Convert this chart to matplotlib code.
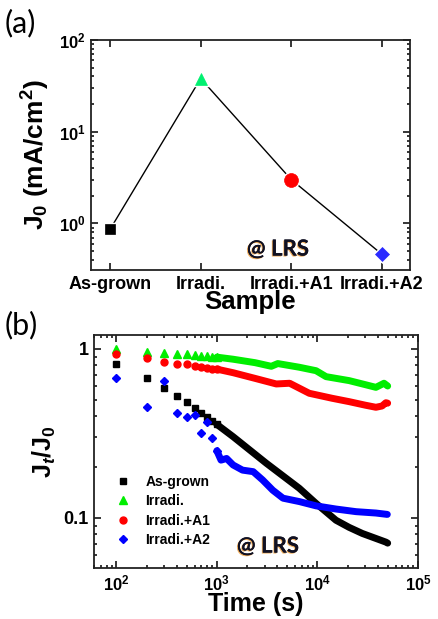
import matplotlib
matplotlib.use('Agg')
import matplotlib.pyplot as plt
import matplotlib.patheffects as pe
from matplotlib.ticker import FixedLocator, LogLocator, NullFormatter

plt.rcParams['font.family'] = ['Liberation Sans', 'DejaVu Sans']
plt.rcParams['font.weight'] = 'bold'
plt.rcParams['axes.labelweight'] = 'bold'
plt.rcParams['mathtext.fontset'] = 'custom'
plt.rcParams['mathtext.rm'] = 'Liberation Sans:bold'
plt.rcParams['mathtext.bf'] = 'Liberation Sans:bold'
plt.rcParams['mathtext.it'] = 'Liberation Sans:bold:italic'

# ---- panel (a) data
samples = ['As-grown', 'Irradi.', 'Irradi.+A1', 'Irradi.+A2']
j0 = [0.86, 38.0, 3.0, 0.46]
a_colors = ['#000000', '#00f070', '#ff0000', '#2a2aff']
a_markers = ['s', '^', 'o', 'D']
a_sizes = [7, 9, 10, 7.5]

# ---- panel (b) data: early points (separate symbols)
t_early = [100, 200, 300, 400, 500, 600, 700, 800, 900, 1000]
asg_early = [0.82, 0.67, 0.585, 0.527, 0.483, 0.448, 0.42, 0.395, 0.375, 0.358]
irr_early = [1.0, 0.965, 0.95, 0.94, 0.93, 0.92, 0.915, 0.905, 0.9, 0.895]
a1_early = [0.93, 0.88, 0.84, 0.82, 0.81, 0.79, 0.785, 0.775, 0.765, 0.76]
a2_early = [0.67, 0.456, 0.65, 0.416, 0.398, 0.407, 0.32, 0.368, 0.296, 0.25]

# late part (dense symbols, appear as a band)
asg_t = [1000, 1450, 3100, 6600, 9700, 15300, 20700, 28000, 48000, 50000]
asg_v = [0.358, 0.303, 0.211, 0.15, 0.122, 0.097, 0.088, 0.081, 0.072, 0.071]
irr_t = [1000, 1450, 2400, 3480, 4040, 6600, 9700, 12200, 20700, 30000, 38200, 46000, 50000]
irr_v = [0.895, 0.87, 0.83, 0.79, 0.82, 0.78, 0.744, 0.686, 0.65, 0.615, 0.593, 0.627, 0.604]
a1_t = [1000, 1450, 2400, 3900, 5300, 8300, 14000, 20700, 30000, 38200, 44000, 48000, 50000]
a1_v = [0.76, 0.724, 0.67, 0.621, 0.627, 0.547, 0.511, 0.488, 0.465, 0.452, 0.46, 0.481, 0.478]
a2_t = [1000, 1100, 1250, 1450, 1800, 2300, 2850, 3600, 4550, 6640, 9700, 15300, 24300, 38200, 49600]
a2_v = [0.25, 0.22, 0.225, 0.206, 0.192, 0.188, 0.168, 0.146, 0.131, 0.125, 0.118, 0.113, 0.109, 0.107, 0.105]

fig = plt.figure(figsize=(4.39, 6.19), dpi=100)
ax1 = fig.add_axes([0.2073, 0.5638, 0.7267, 0.3716])
ax2 = fig.add_axes([0.2141, 0.0824, 0.7379, 0.3764])

lrs_fx = [pe.withSimplePatchShadow(offset=(-0.7, -0.7), shadow_rgbFace='#eea040', alpha=0.85),
          pe.Normal()]

# ---------------- (a)
x = list(range(len(samples)))
ax1.plot(x, j0, color='k', lw=1.0, zorder=1)
for xi, yi, c, m, s in zip(x, j0, a_colors, a_markers, a_sizes):
    ax1.plot(xi, yi, marker=m, color=c, ms=s, mec='white', mew=2.5, zorder=2)
    ax1.plot(xi, yi, marker=m, color=c, ms=s, mec=c, mew=0.5, zorder=3)
ax1.set_yscale('log')
ax1.set_ylim(0.31, 100)
ax1.set_xlim(-0.21, 3.31)
ax1.set_xticks(x)
ax1.set_xticklabels(samples, fontsize=13)
ax1.set_yticks([1, 10, 100])
ax1.set_yticklabels([r'$10^{0}$', r'$10^{1}$', r'$10^{2}$'], fontsize=12)
ax1.yaxis.set_minor_locator(LogLocator(base=10, subs=range(2, 10)))
ax1.yaxis.set_minor_formatter(NullFormatter())
ax1.set_ylabel(r'J$_0$ (mA/cm$^2$)', fontsize=19, labelpad=5)
ax1.set_xlabel('Sample', fontsize=18.5, labelpad=-2)
ax1.text(0.586, 0.091, '@ LRS', transform=ax1.transAxes, fontsize=16,
         family='Lato', weight='bold', color='#111122', ha='center', va='center',
         path_effects=lrs_fx)
fig.text(0.01, 0.962, '(a)', fontsize=22, family='Lato', weight='normal', va='center')

# ---------------- (b)
for tt, vv, c in ((asg_t, asg_v, 'k'), (irr_t, irr_v, '#00ee00'),
                  (a1_t, a1_v, '#ff0000'), (a2_t, a2_v, '#0000ff')):
    ax2.plot(tt, vv, color=c, lw=5, solid_capstyle='round', zorder=2)
ax2.plot(t_early, asg_early, 's', color='k', ms=4.5, ls='none', label='As-grown', zorder=3)
ax2.plot(t_early, irr_early, '^', color='#00ee00', ms=5.5, ls='none', label='Irradi.', zorder=3)
ax2.plot(t_early, a1_early, 'o', color='#ff0000', ms=5, ls='none', label='Irradi.+A1', zorder=3)
ax2.plot(t_early, a2_early, 'D', color='#0000ff', ms=4.5, ls='none', label='Irradi.+A2', zorder=3)
ax2.set_xscale('log')
ax2.set_yscale('log')
ax2.set_xlim(60, 1e5)
ax2.set_ylim(0.0506, 1.21)
ax2.set_xticks([1e2, 1e3, 1e4, 1e5])
ax2.set_xticklabels([r'$10^{2}$', r'$10^{3}$', r'$10^{4}$', r'$10^{5}$'], fontsize=12)
ax2.xaxis.set_minor_locator(LogLocator(base=10, subs=range(2, 10)))
ax2.xaxis.set_minor_formatter(NullFormatter())
ax2.yaxis.set_major_locator(FixedLocator([0.1, 1]))
ax2.set_yticklabels(['0.1', '1'], fontsize=13)
ax2.yaxis.set_minor_locator(LogLocator(base=10, subs=range(2, 10)))
ax2.yaxis.set_minor_formatter(NullFormatter())
ax2.set_ylabel(r'J$_t$/J$_0$', fontsize=18, labelpad=4)
ax2.set_xlabel('Time (s)', fontsize=18, labelpad=-1)
ax2.legend(loc='lower left', bbox_to_anchor=(0.03, 0.035), frameon=False, fontsize=10,
           handlelength=1.0, handletextpad=1.1, labelspacing=0.4, numpoints=1)
ax2.text(0.537, 0.094, '@ LRS', transform=ax2.transAxes, fontsize=16,
         family='Lato', weight='bold', color='#111122', ha='center', va='center',
         path_effects=lrs_fx)
fig.text(0.01, 0.475, '(b)', fontsize=22, family='Lato', weight='normal', va='center')

for ax in (ax1, ax2):
    for sp in ax.spines.values():
        sp.set_linewidth(1.3)
        sp.set_color('#222222')
    ax.tick_params(which='both', direction='in', top=True, right=True, width=1.1)
    ax.tick_params(which='major', length=5, pad=4)
    ax.tick_params(which='minor', length=2.5)
ax1.tick_params(axis='x', which='minor', bottom=False, top=False)

fig.savefig('out.png', dpi=100)
